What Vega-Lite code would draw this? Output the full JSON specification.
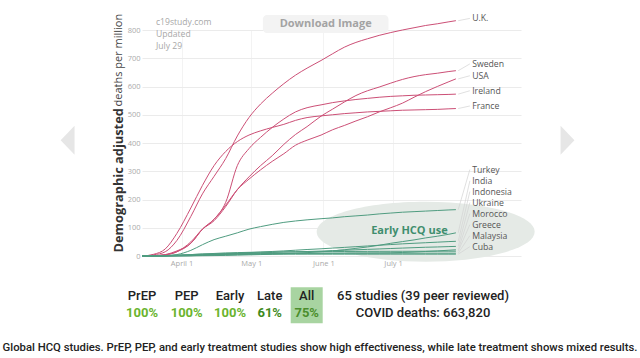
{
  "$schema": "https://vega.github.io/schema/vega-lite/v6.json",
  "width": 379,
  "height": 226,
  "autosize": {"type": "none"},
  "padding": {"left": 142, "top": 30, "right": 119, "bottom": 102},
  "background": "white",
  "config": {"view": {"stroke": null}, "font": "Open Sans"},
  "datasets": {
    "lines": [
      {"date":"2020-03-15","UK":0,"Sweden":0,"USA":0,"Ireland":0,"France":0,"Turkey":0,"India":0,"Indonesia":0,"Ukraine":0,"Morocco":0,"Greece":0,"Malaysia":0,"Cuba":0},
      {"date":"2020-03-20","UK":4,"Sweden":1,"USA":1,"Ireland":1,"France":6,"Turkey":0,"India":0,"Indonesia":0,"Ukraine":0,"Morocco":0,"Greece":0.5,"Malaysia":0.5,"Cuba":0},
      {"date":"2020-03-25","UK":15,"Sweden":4,"USA":4,"Ireland":5,"France":25,"Turkey":1,"India":0,"Indonesia":0.5,"Ukraine":0.2,"Morocco":0.5,"Greece":1,"Malaysia":1.5,"Cuba":0.3},
      {"date":"2020-03-30","UK":55,"Sweden":15,"USA":15,"Ireland":18,"France":80,"Turkey":5,"India":0.2,"Indonesia":1.5,"Ukraine":0.5,"Morocco":1.5,"Greece":3,"Malaysia":3,"Cuba":0.8},
      {"date":"2020-04-05","UK":140,"Sweden":50,"USA":45,"Ireland":45,"France":170,"Turkey":20,"India":0.5,"Indonesia":3,"Ukraine":1,"Morocco":2.5,"Greece":5,"Malaysia":5,"Cuba":1.5},
      {"date":"2020-04-10","UK":220,"Sweden":95,"USA":95,"Ireland":95,"France":250,"Turkey":40,"India":1,"Indonesia":4.5,"Ukraine":2.5,"Morocco":4,"Greece":7,"Malaysia":7,"Cuba":2.5},
      {"date":"2020-04-15","UK":282,"Sweden":125,"USA":130,"Ireland":130,"France":320,"Turkey":58,"India":1.5,"Indonesia":6,"Ukraine":4,"Morocco":5,"Greece":9,"Malaysia":8,"Cuba":3.5},
      {"date":"2020-04-20","UK":345,"Sweden":175,"USA":180,"Ireland":190,"France":370,"Turkey":70,"India":2,"Indonesia":8,"Ukraine":6,"Morocco":6,"Greece":11,"Malaysia":8.5,"Cuba":4.3},
      {"date":"2020-04-25","UK":425,"Sweden":235,"USA":235,"Ireland":320,"France":405,"Turkey":82,"India":3,"Indonesia":10,"Ukraine":8,"Morocco":7,"Greece":12,"Malaysia":9,"Cuba":5},
      {"date":"2020-04-30","UK":490,"Sweden":280,"USA":272,"Ireland":380,"France":428,"Turkey":95,"India":4,"Indonesia":12,"Ukraine":9.5,"Morocco":7.5,"Greece":13,"Malaysia":9.2,"Cuba":5.5},
      {"date":"2020-05-05","UK":538,"Sweden":320,"USA":305,"Ireland":420,"France":443,"Turkey":104,"India":5,"Indonesia":14,"Ukraine":11,"Morocco":8,"Greece":13.5,"Malaysia":9.4,"Cuba":6},
      {"date":"2020-05-10","UK":576,"Sweden":355,"USA":335,"Ireland":455,"France":455,"Turkey":112,"India":6.5,"Indonesia":16,"Ukraine":12.5,"Morocco":8.5,"Greece":14,"Malaysia":9.5,"Cuba":6.2},
      {"date":"2020-05-15","UK":610,"Sweden":395,"USA":362,"Ireland":485,"France":466,"Turkey":119,"India":8,"Indonesia":18,"Ukraine":14,"Morocco":9,"Greece":14.5,"Malaysia":9.6,"Cuba":6.3},
      {"date":"2020-05-20","UK":640,"Sweden":430,"USA":392,"Ireland":510,"France":480,"Turkey":124,"India":10,"Indonesia":20.5,"Ukraine":15,"Morocco":9.3,"Greece":15,"Malaysia":9.7,"Cuba":6.3},
      {"date":"2020-05-25","UK":665,"Sweden":458,"USA":410,"Ireland":525,"France":490,"Turkey":128,"India":12,"Indonesia":23,"Ukraine":16,"Morocco":9.5,"Greece":15.2,"Malaysia":9.7,"Cuba":6.4},
      {"date":"2020-05-31","UK":692,"Sweden":495,"USA":428,"Ireland":535,"France":496,"Turkey":132,"India":15,"Indonesia":25.5,"Ukraine":17.5,"Morocco":9.8,"Greece":15.5,"Malaysia":9.8,"Cuba":6.4},
      {"date":"2020-06-05","UK":716,"Sweden":520,"USA":447,"Ireland":543,"France":500,"Turkey":135,"India":18,"Indonesia":28,"Ukraine":19,"Morocco":10,"Greece":15.7,"Malaysia":9.8,"Cuba":6.4},
      {"date":"2020-06-10","UK":739,"Sweden":545,"USA":462,"Ireland":549,"France":504,"Turkey":139,"India":22,"Indonesia":30.5,"Ukraine":20.5,"Morocco":10.2,"Greece":16,"Malaysia":9.8,"Cuba":6.4},
      {"date":"2020-06-15","UK":756,"Sweden":568,"USA":478,"Ireland":554,"France":507,"Turkey":142,"India":27,"Indonesia":33,"Ukraine":22,"Morocco":10.5,"Greece":16.2,"Malaysia":9.9,"Cuba":6.4},
      {"date":"2020-06-20","UK":769,"Sweden":585,"USA":493,"Ireland":558,"France":510,"Turkey":145,"India":32,"Indonesia":35.5,"Ukraine":23.5,"Morocco":10.7,"Greece":16.4,"Malaysia":9.9,"Cuba":6.5},
      {"date":"2020-06-25","UK":781,"Sweden":598,"USA":510,"Ireland":562,"France":512,"Turkey":149,"India":38,"Indonesia":38,"Ukraine":25,"Morocco":11,"Greece":16.5,"Malaysia":9.9,"Cuba":6.5},
      {"date":"2020-06-30","UK":791,"Sweden":612,"USA":525,"Ireland":565,"France":514,"Turkey":152,"India":45,"Indonesia":40.5,"Ukraine":26.5,"Morocco":11.5,"Greece":16.6,"Malaysia":9.9,"Cuba":6.5},
      {"date":"2020-07-05","UK":800,"Sweden":625,"USA":541,"Ireland":567,"France":516,"Turkey":155,"India":51,"Indonesia":43,"Ukraine":28,"Morocco":12.5,"Greece":16.7,"Malaysia":10,"Cuba":6.5},
      {"date":"2020-07-10","UK":808,"Sweden":635,"USA":562,"Ireland":569,"France":517,"Turkey":157,"India":57,"Indonesia":45,"Ukraine":29.5,"Morocco":14,"Greece":16.8,"Malaysia":10,"Cuba":6.5},
      {"date":"2020-07-15","UK":816,"Sweden":642,"USA":582,"Ireland":570,"France":518,"Turkey":159,"India":64,"Indonesia":47,"Ukraine":31,"Morocco":16,"Greece":16.9,"Malaysia":10,"Cuba":6.5},
      {"date":"2020-07-20","UK":822,"Sweden":647,"USA":600,"Ireland":571,"France":519,"Turkey":161,"India":70,"Indonesia":49,"Ukraine":32,"Morocco":18,"Greece":17,"Malaysia":10,"Cuba":6.5},
      {"date":"2020-07-25","UK":829,"Sweden":653,"USA":617,"Ireland":572,"France":521,"Turkey":163,"India":77,"Indonesia":51,"Ukraine":33.3,"Morocco":20.5,"Greece":17,"Malaysia":10,"Cuba":6.5},
      {"date":"2020-07-28","UK":833,"Sweden":656,"USA":627,"Ireland":573,"France":522,"Turkey":164,"India":82,"Indonesia":52,"Ukraine":34,"Morocco":22,"Greece":17,"Malaysia":10,"Cuba":6.5}
    ],
    "labels": [
      {"country":"UK","label":"U.K.","end":833,"labelY":841},
      {"country":"Sweden","label":"Sweden","end":656,"labelY":680},
      {"country":"USA","label":"USA","end":627,"labelY":638},
      {"country":"Ireland","label":"Ireland","end":573,"labelY":585},
      {"country":"France","label":"France","end":522,"labelY":531},
      {"country":"Turkey","label":"Turkey","end":164,"labelY":306},
      {"country":"India","label":"India","end":82,"labelY":266},
      {"country":"Indonesia","label":"Indonesia","end":52,"labelY":228},
      {"country":"Ukraine","label":"Ukraine","end":34,"labelY":189},
      {"country":"Morocco","label":"Morocco","end":22,"labelY":150},
      {"country":"Greece","label":"Greece","end":17,"labelY":111},
      {"country":"Malaysia","label":"Malaysia","end":10,"labelY":72},
      {"country":"Cuba","label":"Cuba","end":6.5,"labelY":33}
    ],
    "ann": [
      {"k":"ellipse","date":"2020-07-15","v":86},
      {"k":"hcq","date":"2020-07-08","v":87,"t":"Early HCQ use"},
      {"k":"btn","date":"2020-05-06","date2":"2020-06-29","v":853,"v2":789},
      {"k":"btntext","date":"2020-06-02","v":821,"t":"Download Image"},
      {"k":"site","date":"2020-03-21","v":829,"t":"c19study.com"},
      {"k":"site","date":"2020-03-21","v":787,"t":"Updated"},
      {"k":"site","date":"2020-03-21","v":745,"t":"July 29"},
      {"k":"left","date":"2020-02-12","v":410},
      {"k":"right","date":"2020-09-14","v":410}
    ],
    "table": [
      {"k":"box","col":4,"row":1},
      {"k":"head","col":0,"row":0,"t":"PrEP"},
      {"k":"head","col":1,"row":0,"t":"PEP"},
      {"k":"head","col":2,"row":0,"t":"Early"},
      {"k":"head","col":3,"row":0,"t":"Late"},
      {"k":"head","col":4,"row":0,"t":"All"},
      {"k":"high","col":0,"row":2,"t":"100%"},
      {"k":"high","col":1,"row":2,"t":"100%"},
      {"k":"high","col":2,"row":2,"t":"100%"},
      {"k":"late","col":3,"row":2,"t":"61%"},
      {"k":"all","col":4,"row":2,"t":"75%"},
      {"k":"info","col":5,"row":0,"t":"65 studies (39 peer reviewed)"},
      {"k":"info","col":5,"row":2,"t":"COVID deaths: 663,820"},
      {"k":"caption","col":6,"row":3,"t":"Global HCQ studies. PrEP, PEP, and early treatment studies show high effectiveness, while late treatment shows mixed results."}
    ]
  },
  "layer": [
    {
      "layer": [
        {
          "data": {"name": "ann"},
          "transform": [{"filter": "datum.k === 'ellipse'"}],
          "mark": {"type": "point", "filled": true, "color": "#e5eae6", "opacity": 1, "strokeWidth": 0, "size": 47524,
                   "shape": "M -1 0 C -1 -0.152 -0.552 -0.275 0 -0.275 C 0.552 -0.275 1 -0.152 1 0 C 1 0.152 0.552 0.275 0 0.275 C -0.552 0.275 -1 0.152 -1 0 Z"},
          "encoding": {
            "x": {"field": "date", "type": "temporal"},
            "y": {"field": "v", "type": "quantitative", "axis": null}
          }
        },
        {
          "data": {"name": "ann"},
          "transform": [{"filter": "datum.k === 'btn'"}],
          "mark": {"type": "rect", "color": "#f3f3f3", "cornerRadius": 4},
          "encoding": {
            "x": {"field": "date", "type": "temporal"},
            "x2": {"field": "date2"},
            "y": {"field": "v", "type": "quantitative", "axis": null},
            "y2": {"field": "v2"}
          }
        },
        {
          "data": {"name": "ann"},
          "transform": [{"filter": "datum.k === 'btntext'"}],
          "mark": {"type": "text", "font": "Open Sans", "fontSize": 11, "fontWeight": "bold", "color": "#a3a3a3", "align": "center", "baseline": "middle"},
          "encoding": {
            "x": {"field": "date", "type": "temporal"},
            "y": {"field": "v", "type": "quantitative", "axis": null},
            "text": {"field": "t"}
          }
        },
        {
          "data": {"name": "ann"},
          "transform": [{"filter": "datum.k === 'site'"}],
          "mark": {"type": "text", "font": "Open Sans", "fontSize": 8.6, "color": "#a8a8a8", "align": "left", "baseline": "middle"},
          "encoding": {
            "x": {"field": "date", "type": "temporal"},
            "y": {"field": "v", "type": "quantitative", "axis": null},
            "text": {"field": "t"}
          }
        },
        {
          "data": {"name": "ann"},
          "transform": [{"filter": "datum.k === 'left'"}],
          "mark": {"type": "point", "filled": true, "color": "#e6e6e6", "opacity": 1, "strokeWidth": 0, "size": 841, "shape": "M 0.48 -1 L -0.48 0 L 0.48 1 Z"},
          "encoding": {
            "x": {"field": "date", "type": "temporal"},
            "y": {"field": "v", "type": "quantitative", "axis": null}
          }
        },
        {
          "data": {"name": "ann"},
          "transform": [{"filter": "datum.k === 'right'"}],
          "mark": {"type": "point", "filled": true, "color": "#e6e6e6", "opacity": 1, "strokeWidth": 0, "size": 841, "shape": "M -0.48 -1 L 0.48 0 L -0.48 1 Z"},
          "encoding": {
            "x": {"field": "date", "type": "temporal"},
            "y": {"field": "v", "type": "quantitative", "axis": null}
          }
        },
        {
          "data": {"name": "lines"},
          "transform": [{"fold": ["UK","Sweden","USA","Ireland","France","Turkey","India","Indonesia","Ukraine","Morocco","Greece","Malaysia","Cuba"], "as": ["country","deaths"]}],
          "mark": {"type": "line", "strokeWidth": 1, "interpolate": "monotone"},
          "encoding": {
            "x": {"field": "date", "type": "temporal",
                  "scale": {"type": "utc", "domain": [{"year":2020,"month":3,"date":15,"utc":true},{"year":2020,"month":8,"date":25,"utc":true}]},
                  "axis": {"values": [{"year":2020,"month":4,"date":1,"utc":true},{"year":2020,"month":5,"date":1,"utc":true},{"year":2020,"month":6,"date":1,"utc":true},{"year":2020,"month":7,"date":1,"utc":true}],
                           "format": "%B %-d", "title": null, "labelColor": "#aaaaaa", "labelFont": "Open Sans", "labelFontSize": 7.5,
                           "ticks": false, "domain": false, "grid": true, "gridColor": "#f3f3f3", "labelPadding": 3}},
            "y": {"field": "deaths", "type": "quantitative",
                  "scale": {"domain": [0, 800], "nice": false},
                  "axis": {"values": [0,100,200,300,400,500,600,700,800], "labelColor": "#aaaaaa", "labelFont": "Open Sans", "labelFontSize": 7.5,
                           "ticks": false, "domain": false, "grid": true, "gridColor": "#ebebeb", "labelPadding": 2,
                           "title": "Demographic adjusted", "titleFont": "Open Sans", "titleFontSize": 12.8, "titleFontWeight": "bold", "titleColor": "#333333",
                           "titleAngle": 270, "titleAlign": "left", "titleBaseline": "middle", "titleX": -23.5, "titleY": 222}},
            "color": {"field": "country", "type": "nominal", "legend": null,
                      "scale": {"domain": ["UK","Sweden","USA","Ireland","France","Turkey","India","Indonesia","Ukraine","Morocco","Greece","Malaysia","Cuba"],
                                "range": ["#cc4f76","#cc4f76","#cc4f76","#cc4f76","#cc4f76","#4f9c80","#4f9c80","#4f9c80","#4f9c80","#4f9c80","#4f9c80","#4f9c80","#4f9c80"]}}
          }
        },
        {
          "data": {"name": "labels"},
          "mark": {"type": "rule", "color": "#d2d2d2", "strokeWidth": 0.7},
          "encoding": {
            "x": {"datum": {"year":2020,"month":7,"date":29,"utc":true}, "type": "temporal"},
            "x2": {"datum": {"year":2020,"month":8,"date":3,"utc":true}},
            "y": {"field": "end", "type": "quantitative", "axis": null},
            "y2": {"field": "labelY"}
          }
        },
        {
          "data": {"name": "labels"},
          "mark": {"type": "text", "font": "Open Sans", "fontSize": 8.7, "color": "#555555", "align": "left", "baseline": "middle"},
          "encoding": {
            "x": {"datum": {"year":2020,"month":8,"date":4,"utc":true}, "type": "temporal"},
            "y": {"field": "labelY", "type": "quantitative",
                  "axis": {"orient": "left", "labels": false, "ticks": false, "domain": false, "grid": false,
                           "title": "deaths per million", "titleFont": "Open Sans", "titleFontSize": 11, "titleFontWeight": "normal", "titleColor": "#444444",
                           "titleAngle": 270, "titleAlign": "left", "titleBaseline": "middle", "titleX": -23.5, "titleY": 76}},
            "text": {"field": "label"}
          }
        },
        {
          "data": {"name": "ann"},
          "transform": [{"filter": "datum.k === 'hcq'"}],
          "mark": {"type": "text", "font": "Open Sans", "fontSize": 11, "fontWeight": "bold", "color": "#3f8e6e", "align": "center", "baseline": "middle"},
          "encoding": {
            "x": {"field": "date", "type": "temporal"},
            "y": {"field": "v", "type": "quantitative", "axis": null},
            "text": {"field": "t"}
          }
        }
      ],
      "resolve": {"axis": {"y": "independent"}}
    },
    {
      "data": {"name": "table"},
      "encoding": {
        "x": {"field": "col", "type": "quantitative", "axis": null,
              "scale": {"domain": [0,1,2,3,4,5,6], "range": [0,44.7,88,127.7,164.7,281,178], "zero": false, "nice": false}},
        "y": {"field": "row", "type": "quantitative", "axis": null,
              "scale": {"domain": [0,1,2,3], "range": [266,275.3,283.3,318], "zero": false, "nice": false}}
      },
      "layer": [
        {
          "transform": [{"filter": "datum.k === 'box'"}],
          "mark": {"type": "point", "filled": true, "color": "#a8d4a1", "opacity": 1, "strokeWidth": 0, "size": 1296,
                   "shape": "M -0.889 -1 L 0.889 -1 L 0.889 1 L -0.889 1 Z"}
        },
        {
          "transform": [{"filter": "datum.k === 'head' || datum.k === 'info'"}],
          "mark": {"type": "text", "font": "Roboto", "fontSize": 13, "fontWeight": 500, "color": "#222222", "align": "center", "baseline": "middle"},
          "encoding": {"text": {"field": "t"}}
        },
        {
          "transform": [{"filter": "datum.k === 'high'"}],
          "mark": {"type": "text", "font": "Roboto", "fontSize": 13, "fontWeight": "bold", "color": "#6ab42e", "align": "center", "baseline": "middle"},
          "encoding": {"text": {"field": "t"}}
        },
        {
          "transform": [{"filter": "datum.k === 'late'"}],
          "mark": {"type": "text", "font": "Roboto", "fontSize": 13, "fontWeight": "bold", "color": "#3f8b1d", "align": "center", "baseline": "middle"},
          "encoding": {"text": {"field": "t"}}
        },
        {
          "transform": [{"filter": "datum.k === 'all'"}],
          "mark": {"type": "text", "font": "Roboto", "fontSize": 13, "fontWeight": "bold", "color": "#4b8e2c", "align": "center", "baseline": "middle"},
          "encoding": {"text": {"field": "t"}}
        },
        {
          "transform": [{"filter": "datum.k === 'caption'"}],
          "mark": {"type": "text", "font": "Roboto", "fontSize": 11.3, "fontWeight": 500, "color": "#222222", "align": "center", "baseline": "middle"},
          "encoding": {"text": {"field": "t"}}
        }
      ]
    }
  ],
  "resolve": {"scale": {"x": "independent", "y": "independent"}}
}
